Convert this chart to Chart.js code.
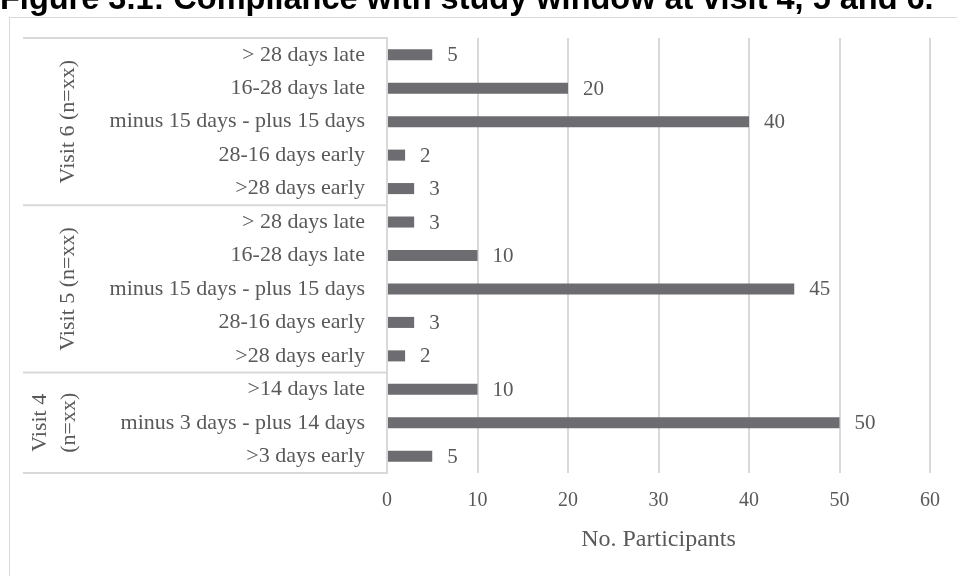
<!DOCTYPE html>
<html>
<head>
<meta charset="utf-8">
<script src="https://cdn.jsdelivr.net/npm/chart.js@4/dist/chart.umd.min.js"></script>
<style>
  html, body { margin: 0; padding: 0; background: #fff; overflow: hidden; }
  #wrap { position: relative; width: 957px; height: 576px; }
</style>
</head>
<body>
<div id="wrap"><canvas id="compliance"></canvas></div>
<script>
// categories top to bottom
const categories = [
  '> 28 days late', '16-28 days late', 'minus 15 days - plus 15 days', '28-16 days early', '>28 days early',
  '> 28 days late', '16-28 days late', 'minus 15 days - plus 15 days', '28-16 days early', '>28 days early',
  '>14 days late', 'minus 3 days - plus 14 days', '>3 days early'
]
const participants = [5, 20, 40, 2, 3, 3, 10, 45, 3, 2, 10, 50, 5]
const groupNames = [['Visit 6 (n=xx)'], ['Visit 5 (n=xx)'], ['Visit 4', '(n=xx)']]
const groupSizes = [5, 5, 3]
const xTicks = [0, 10, 20, 30, 40, 50, 60]
const chartTitle = 'Figure 3.1: Compliance with study window at visit 4, 5 and 6.'
const axisTitle = 'No. Participants'

const serif = '"Liberation Serif", "DejaVu Serif", serif'
const textGrey = '#595959'
const lineGrey = '#d9d9d9'

//frame + clipped figure title
const framePlugin = {
  id: 'frame',
  beforeDraw(chart) {
    const ctx = chart.ctx
    ctx.save()
    ctx.strokeStyle = lineGrey
    ctx.lineWidth = 1
    ctx.strokeRect(9.5, 17.5, 1200, 1200)
    ctx.fillStyle = '#000'
    ctx.font = 'bold 32.5px "Liberation Sans", Arial, sans-serif'
    ctx.textBaseline = 'alphabetic'
    ctx.textAlign = 'left'
    ctx.fillText(chartTitle, 0, 9)
    ctx.restore()
  }
}

//value labels at bar ends
const valuePlugin = {
  id: 'values',
  afterDatasetsDraw(chart) {
    const ctx = chart.ctx
    const meta = chart.getDatasetMeta(0)
    ctx.save()
    ctx.fillStyle = textGrey
    ctx.font = '21px ' + serif
    ctx.textBaseline = 'middle'
    ctx.textAlign = 'left'
    meta.data.forEach((bar, i) => {
      ctx.fillText(participants[i], bar.x + 15, bar.y + 1)
    })
    ctx.restore()
  }
}

//multi level category boxes (visit groups)
const groupPlugin = {
  id: 'groups',
  afterDraw(chart) {
    const ctx = chart.ctx
    const y = chart.scales.y
    const left = chart.chartArea.left
    const half = (y.getPixelForValue(1) - y.getPixelForValue(0)) / 2
    ctx.save()
    ctx.strokeStyle = lineGrey
    ctx.lineWidth = 2
    let start = 0
    const edges = [y.getPixelForValue(0) - half]
    groupSizes.forEach(n => {
      start += n
      edges.push(y.getPixelForValue(start - 1) + half)
    })
    edges.forEach(e => {
      ctx.beginPath()
      ctx.moveTo(23, e)
      ctx.lineTo(left, e)
      ctx.stroke()
    })
    ctx.fillStyle = textGrey
    ctx.font = '22px ' + serif
    ctx.textAlign = 'center'
    ctx.textBaseline = 'middle'
    groupNames.forEach((lines, g) => {
      const mid = (edges[g] + edges[g + 1]) / 2
      const xs = lines.length === 1 ? [68] : [40, 69]
      lines.forEach((txt, k) => {
        ctx.save()
        ctx.translate(xs[k], mid)
        ctx.rotate(-Math.PI / 2)
        ctx.fillText(txt, 0, 0)
        ctx.restore()
      })
    })
    ctx.restore()
  }
}

const canvas = document.getElementById('compliance')
const complianceChart = new Chart(canvas, {
  type: 'bar',
  data: {
    labels: categories,
    datasets: [{
      label: axisTitle,
      data: participants,
      backgroundColor: '#6d6c71',
      barPercentage: 0.33,
      categoryPercentage: 1
    }]
  },
  options: {
    indexAxis: 'y',
    responsive: true,
    maintainAspectRatio: false,
    animation: false,
    layout: { padding: { top: 38, right: 27, bottom: 0, left: 0 } },
    plugins: {
      legend: { display: false },
      tooltip: { enabled: false }
    },
    scales: {
      x: {
        min: 0,
        max: 60,
        afterBuildTicks: s => { s.ticks = xTicks.map(v => ({ value: v })) },
        afterFit: s => { s.height = 103 },
        grid: { color: lineGrey, lineWidth: 2, drawTicks: false },
        border: { display: false },
        ticks: { color: textGrey, font: { family: serif, size: 20 }, padding: 16 },
        title: {
          display: true,
          text: axisTitle,
          color: textGrey,
          font: { family: serif, size: 24 },
          padding: { top: 0, bottom: 22 }
        }
      },
      y: {
        afterFit: s => { s.width = 387 },
        grid: { display: false, drawTicks: false },
        border: { display: true, color: lineGrey, width: 2 },
        ticks: { color: textGrey, font: { family: serif, size: 22 }, padding: 22, autoSkip: false }
      }
    }
  },
  plugins: [framePlugin, valuePlugin, groupPlugin]
})
</script>
</body>
</html>
